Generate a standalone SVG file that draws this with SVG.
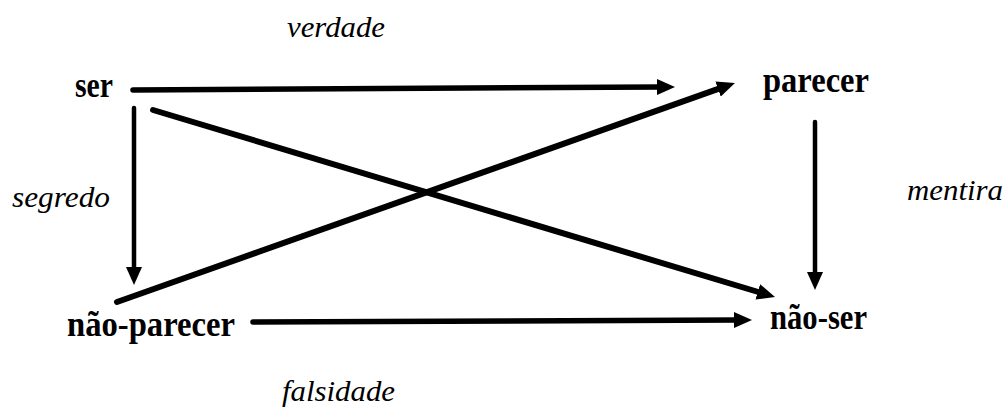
<svg xmlns="http://www.w3.org/2000/svg" width="1004" height="414" viewBox="0 0 1004 414">
<style>
.term{font-family:"Liberation Serif","Times New Roman",serif;font-weight:bold;font-size:35px;fill:#000}
.rel{font-family:"Liberation Serif","Times New Roman",serif;font-style:italic;font-size:29px;fill:#000}
.con{stroke:#000;fill:none;stroke-linecap:round;marker-end:url(#ah)}
</style>
<defs>
<marker id="ah" viewBox="0 0 18 16" refX="4" refY="8" markerWidth="18" markerHeight="16" markerUnits="userSpaceOnUse" orient="auto">
<path d="M0,0 L18,8 L0,16 z" fill="#000"/>
</marker>
</defs>
<rect width="1004" height="414" fill="#fff"/>
<g id="connectors">
<line class="con" x1="133" y1="90" x2="661" y2="87" stroke-width="5.5"/>
<line class="con" x1="134" y1="108" x2="134" y2="271" stroke-width="4.5"/>
<line class="con" x1="153" y1="110" x2="761.6" y2="293" stroke-width="6"/>
<line class="con" x1="117" y1="302" x2="721.8" y2="87.7" stroke-width="6"/>
<line class="con" x1="815" y1="122" x2="815" y2="276" stroke-width="4.5"/>
<line class="con" x1="253" y1="322" x2="738" y2="320" stroke-width="5.5"/>
</g>
<g id="node-ser"><text class="term" x="75" y="97" textLength="38" lengthAdjust="spacingAndGlyphs">ser</text></g>
<g id="node-parecer"><text class="term" x="763" y="92" textLength="106" lengthAdjust="spacingAndGlyphs">parecer</text></g>
<g id="node-nao-parecer"><text class="term" x="67" y="336" textLength="168" lengthAdjust="spacingAndGlyphs">não-parecer</text></g>
<g id="node-nao-ser"><text class="term" x="770" y="329" textLength="97" lengthAdjust="spacingAndGlyphs">não-ser</text></g>
<g id="labels">
<text class="rel" x="287" y="37" textLength="98" lengthAdjust="spacingAndGlyphs">verdade</text>
<text class="rel" x="12" y="207" textLength="98" lengthAdjust="spacingAndGlyphs">segredo</text>
<text class="rel" x="907" y="200" textLength="96" lengthAdjust="spacingAndGlyphs">mentira</text>
<text class="rel" x="282" y="401" textLength="113" lengthAdjust="spacingAndGlyphs">falsidade</text>
</g>
</svg>
